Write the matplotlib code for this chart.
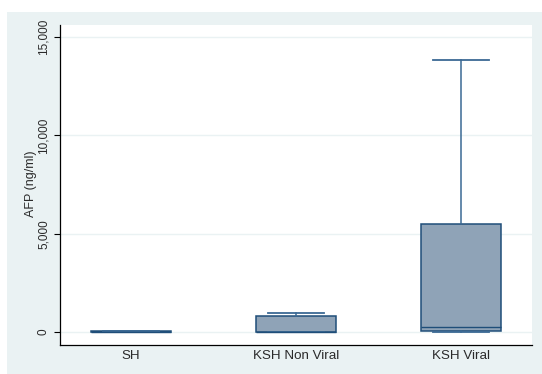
import matplotlib
matplotlib.use("Agg")
import matplotlib.pyplot as plt
from matplotlib.ticker import FuncFormatter

categories = ["SH", "KSH Non Viral", "KSH Viral"]
whislo = [0, 0, 0]
q1 = [5, 5, 60]
med = [15, 20, 250]
q3 = [40, 810, 5500]
whishi = [60, 980, 13850]
yticks = [0, 5000, 10000, 15000]

W, H = 542, 374
fig = plt.figure(figsize=(W / 100, H / 100), dpi=100, facecolor="white")
bg = fig.add_axes([7 / W, 0, 1 - 7 / W, 1 - 12 / H], zorder=-1)
bg.set_facecolor("#eaf2f3")
bg.set_xticks([]); bg.set_yticks([])
for s in bg.spines.values():
    s.set_visible(False)

ax = fig.add_axes([60 / W, 1 - 345 / H, (532 - 60) / W, (345 - 25) / H], zorder=1)
ax.set_facecolor("white")

stats = []
for i, c in enumerate(categories):
    stats.append(dict(label=c, whislo=whislo[i], q1=q1[i], med=med[i], q3=q3[i], whishi=whishi[i], fliers=[]))

edge = "#1f4e79"
wcol = "#3b6994"
ax.bxp(stats, positions=[1, 2, 3], widths=0.49, patch_artist=True, showfliers=False,
       boxprops=dict(facecolor="#8fa3b7", edgecolor=edge, linewidth=1.1),
       medianprops=dict(color=edge, linewidth=1.0),
       whiskerprops=dict(color=wcol, linewidth=1.1),
       capprops=dict(color=wcol, linewidth=1.3),
       capwidths=0.34, zorder=3)

ax.set_xlim(0.57, 3.43)
ax.set_ylim(-661, 15610)
ax.set_yticks(yticks)
ax.yaxis.set_major_formatter(FuncFormatter(lambda v, p: f"{int(v):,}"))
for y in yticks:
    ax.axhline(y, color="#eaf2f3", linewidth=1.0, zorder=1)

for s in ["top", "right"]:
    ax.spines[s].set_visible(False)
for s in ["left", "bottom"]:
    ax.spines[s].set_color("black")
    ax.spines[s].set_linewidth(0.9)

font = "Liberation Sans"
ax.tick_params(axis="x", length=0, pad=3.5, labelsize=9.6, labelcolor="#2a2a2a")
ax.tick_params(axis="y", length=4, width=0.8, pad=3.5, labelsize=8.5, labelcolor="#2a2a2a")
for lab in ax.get_xticklabels():
    lab.set_fontfamily(font)
for lab in ax.get_yticklabels():
    lab.set_fontfamily(font)
    lab.set_rotation(90)
    lab.set_va("center")
fig.text(31 / W, 1 - 184 / H, "AFP (ng/ml)", rotation=90, ha="center", va="center",
         fontsize=9.0, family=font, color="#2a2a2a")

fig.savefig("out.png", dpi=100, facecolor="white")
